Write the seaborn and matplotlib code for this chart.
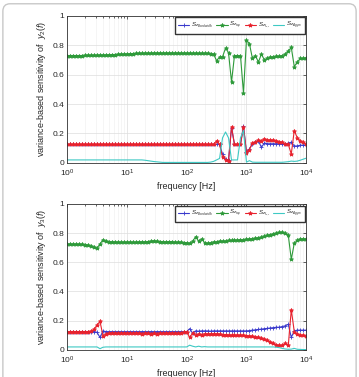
import numpy as np
import pandas as pd
import matplotlib
matplotlib.use('Agg')
import matplotlib.pyplot as plt
from matplotlib.patches import FancyBboxPatch
import seaborn as sns

# frequency grid (20 points per decade, 1 Hz .. 10 kHz)
freq = 10 ** (np.arange(81) / 20)

# y2(f) sensitivities
g2 = ([0.730, 0.730, 0.730, 0.730, 0.730, 0.730, 0.731, 0.731, 0.731, 0.732,
       0.732, 0.733, 0.733, 0.734, 0.735, 0.736, 0.737, 0.738, 0.739, 0.740,
       0.741, 0.742, 0.743, 0.744, 0.745, 0.745, 0.746, 0.746, 0.746, 0.747,
       0.747, 0.747, 0.747, 0.747, 0.747, 0.747, 0.747, 0.747, 0.746, 0.746,
       0.746, 0.746, 0.746, 0.746, 0.745, 0.745, 0.745, 0.745, 0.743, 0.740,
       0.695, 0.720, 0.722, 0.780, 0.750, 0.550, 0.730, 0.730, 0.730, 0.475,
       0.835, 0.810, 0.710, 0.730, 0.685, 0.740, 0.700, 0.710, 0.720, 0.720,
       0.725, 0.725, 0.730, 0.740, 0.760, 0.785, 0.655, 0.685, 0.710, 0.710, 0.715])
r2 = ([0.125] * 50 +
      [0.150, 0.125, 0.040, 0.020, 0.015, 0.245, 0.125, 0.125, 0.125, 0.245,
       0.070, 0.090, 0.135, 0.140, 0.155, 0.150, 0.165, 0.155, 0.155, 0.155,
       0.150, 0.145, 0.140, 0.130, 0.125, 0.060, 0.220, 0.170, 0.150, 0.140, 0.125])
b2 = ([0.125] * 52 +
      [0.060, 0.025, 0.020, 0.240, 0.125, 0.125, 0.125, 0.250,
       0.075, 0.095, 0.130, 0.145, 0.150, 0.105, 0.135, 0.130, 0.130, 0.130,
       0.130, 0.130, 0.125, 0.125, 0.135, 0.140, 0.115, 0.115, 0.120, 0.120, 0.120])
c2 = ([0.020] * 26 +
      [0.018, 0.015, 0.012, 0.009, 0.007, 0.005] + [0.003] * 16 +
      [0.005, 0.010, 0.020, 0.030, 0.170, 0.210, 0.170, 0.020, 0.020, 0.020, 0.170, 0.220,
       0.005, 0.015, 0.005, 0.004, 0.004, 0.004, 0.004, 0.004, 0.004, 0.004,
       0.004, 0.004, 0.004, 0.006, 0.008, 0.012, 0.010, 0.012, 0.018, 0.025, 0.032])

# y3(f) sensitivities
g3 = ([0.725, 0.725, 0.725, 0.725, 0.724, 0.723, 0.722, 0.718, 0.712, 0.705,
       0.698, 0.725, 0.755, 0.745, 0.742, 0.740, 0.740, 0.738, 0.738, 0.738,
       0.738, 0.738, 0.738, 0.738, 0.740, 0.740, 0.740, 0.742, 0.745, 0.748,
       0.745, 0.742, 0.742, 0.740, 0.742, 0.742, 0.738, 0.738, 0.738, 0.735,
       0.735, 0.730, 0.745, 0.775, 0.745, 0.760, 0.735, 0.730, 0.735, 0.740,
       0.740, 0.745, 0.745, 0.745, 0.750, 0.750, 0.752, 0.752, 0.755, 0.755,
       0.758, 0.760, 0.762, 0.765, 0.768, 0.772, 0.778, 0.785, 0.790, 0.795,
       0.800, 0.805, 0.805, 0.800, 0.785, 0.620, 0.730, 0.750, 0.760, 0.760, 0.760])
r3 = ([0.125] * 8 +
      [0.128, 0.140, 0.170, 0.195, 0.095, 0.110] +
      [0.115, 0.115, 0.113, 0.115, 0.117, 0.115, 0.115, 0.113, 0.115, 0.115,
       0.115, 0.112, 0.115, 0.115, 0.110, 0.115, 0.112, 0.115, 0.115, 0.113,
       0.115, 0.115, 0.113, 0.115, 0.118, 0.120] +
      [0.125, 0.085, 0.115, 0.100, 0.110, 0.105, 0.110, 0.110, 0.110, 0.110,
       0.110, 0.108, 0.105, 0.105, 0.102, 0.100, 0.100, 0.100, 0.100, 0.100,
       0.098, 0.095, 0.092, 0.090, 0.085, 0.080, 0.075, 0.065, 0.055, 0.045,
       0.035, 0.030, 0.030, 0.045, 0.030, 0.275, 0.125, 0.110, 0.100, 0.100, 0.095])
b3 = ([0.125] * 10 +
      [0.120, 0.085, 0.130] + [0.125] * 28 +
      [0.145, 0.115, 0.130, 0.128, 0.130, 0.130, 0.130, 0.128, 0.130, 0.130,
       0.130, 0.130, 0.130, 0.130, 0.130, 0.130, 0.130, 0.130, 0.130,
       0.130, 0.132, 0.135, 0.137, 0.140, 0.142, 0.145, 0.147, 0.150, 0.152,
       0.155, 0.155, 0.160, 0.165, 0.175, 0.085, 0.130, 0.135, 0.135, 0.135, 0.135])
c3 = ([0.020] * 11 + [0.008, 0.018] + [0.020] * 28 +
      [0.032, 0.025, 0.020, 0.025, 0.020, 0.022] + [0.020] * 23 +
      [0.018, 0.015, 0.010, 0.006, 0.004, 0.005, 0.010, 0.004, 0.003, 0.002, 0.002])

labels = [r'$S_{z_{Bandwidth}}$', r'$S_{z_{tap}}$', r'$S_{z_{f_{0,L}}}$', r'$S_{z_{Agym}}$']
colors = ['#3a3acc', '#2e9a3a', '#e8222e', '#3ec9c4']
markers = ['+', '*', '*', None]

sns.set_style('white')
plt.rcParams['font.family'] = ['Liberation Sans', 'DejaVu Sans']
plt.rcParams['mathtext.fontset'] = 'custom'
plt.rcParams['mathtext.it'] = 'Liberation Sans:italic'
plt.rcParams['mathtext.rm'] = 'Liberation Sans'

fig = plt.figure(figsize=(3.59, 3.77), dpi=100)
# light rounded frame, open at the bottom like the source page crop
fig.patches.append(FancyBboxPatch((0.008, -0.05), 0.984, 1.04,
                                  boxstyle='round,pad=0,rounding_size=0.02',
                                  transform=fig.transFigure, fill=False,
                                  edgecolor='#c8c8c8', linewidth=1.0))

ax1 = fig.add_axes([0.187, 0.568, 0.666, 0.390])
ax2 = fig.add_axes([0.187, 0.072, 0.666, 0.387])

panels = [(ax1, [b2, g2, r2, c2], r'variance-based sensitivity of  $y_2(f)$'),
          (ax2, [b3, g3, r3, c3], r'variance-based sensitivity of  $y_3(f)$')]

for ax, series, ylab in panels:
    for vals, lab, col, mk in zip(series, labels, colors, markers):
        df = pd.DataFrame({'freq': freq, 'S': vals})
        sns.lineplot(data=df, x='freq', y='S', ax=ax, color=col, label=lab,
                     marker=mk, markersize=3, markeredgewidth=0.6,
                     markeredgecolor=col, linewidth=0.8)
    ax.set_xscale('log')
    ax.set_xlim(1, 1e4)
    ax.set_ylim(0, 1)
    ax.set_yticks([0, 0.2, 0.4, 0.6, 0.8, 1])
    ax.set_yticklabels(['0', '0.2', '0.4', '0.6', '0.8', '1'])
    ax.grid(True, which='major', color='#dddddd', linewidth=0.5)
    ax.grid(True, which='minor', color='#eeeeee', linewidth=0.4)
    ax.tick_params(which='both', direction='in', top=True, right=True,
                   labelsize=6, length=2.5, width=0.5)
    ax.tick_params(axis='x', pad=3.5)
    ax.tick_params(axis='y', pad=2)
    ax.tick_params(which='minor', length=1.5)
    for sp in ax.spines.values():
        sp.set_linewidth(0.6)
        sp.set_color('#333333')
    ax.set_xlabel('frequency [Hz]', fontsize=6.5, labelpad=2)
    ax.set_ylabel(ylab, fontsize=6.5, labelpad=3)
    ax.legend(loc='upper right', ncol=4, fontsize=4.5, frameon=True,
              fancybox=False, edgecolor='#333333', framealpha=1,
              handlelength=1.8, handletextpad=0.25, columnspacing=0.5,
              borderpad=0.45, borderaxespad=0.25)

fig.savefig('out.png', dpi=100)
